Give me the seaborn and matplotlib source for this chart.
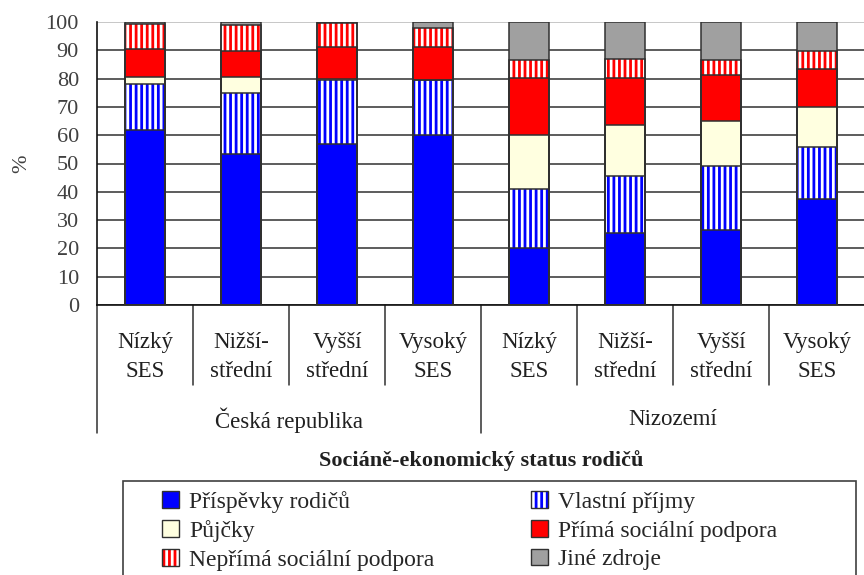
'''Sources of student income by parents' socio-economic status (CZ vs NL)'''

### IMPORTS ###

import matplotlib
matplotlib.use("Agg")
import matplotlib.pyplot as plt
import matplotlib.transforms as mtrans
from matplotlib.patches import Patch, Rectangle
import numpy as np
import seaborn as sns

### DATA ###

categories = ["Nízký\nSES", "Nižší-\nstřední", "Vyšší\nstřední", "Vysoký\nSES"] * 2
groups = ["Česká republika", "Nizozemí"]
series = ["Příspěvky rodičů", "Vlastní příjmy", "Půjčky",
          "Přímá sociální podpora", "Nepřímá sociální podpora", "Jiné zdroje"]

prispevky = [62.0, 53.5, 56.8, 60.2, 20.3, 25.4, 26.6, 37.3]
vlastni = [16.0, 21.3, 22.6, 19.2, 20.8, 20.1, 22.5, 18.4]
pujcky = [2.7, 5.9, 0.3, 0.2, 18.9, 18.0, 16.0, 14.3]
prima = [9.7, 9.2, 11.3, 11.6, 20.3, 16.8, 16.3, 13.5]
neprima = [9.0, 9.0, 8.6, 6.6, 6.2, 6.8, 5.0, 6.3]
jine = [0.6, 1.1, 0.4, 2.2, 13.5, 12.9, 13.6, 10.2]

title = "Sociáně-ekonomický status rodičů"

### STYLE ###

sns.set_style("white")
plt.rcParams["font.family"] = ["Liberation Serif", "DejaVu Serif"]
plt.rcParams["hatch.linewidth"] = 2.0

fill_colors = ["#0000ff", "#ffffff", "#ffffe0", "#ff0000", "#ffffff", "#a0a0a0"]
hatch_colors = [None, "#0000ff", None, None, "#ff0000", None]
edge = "#303030"
bar_w = 0.41

### PLOT ###

values = np.array([prispevky, vlastni, pujcky, prima, neprima, jine])
tops = np.cumsum(values, axis=0)
bar_ids = [f"b{i}" for i in range(len(categories))]

fig = plt.figure(figsize=(8.64, 5.75), dpi=100)
ax = fig.add_axes([97 / 864, 1 - 305 / 575, 768 / 864, 283 / 575])

# stacked fills: draw cumulative heights from the top series down
for i in reversed(range(len(series))):
    hc = hatch_colors[i]
    sns.barplot(x=bar_ids, y=tops[i], color=fill_colors[i], saturation=1,
                width=bar_w, errorbar=None, linewidth=0,
                edgecolor=hc if hc else "none", hatch="|||" if hc else None,
                ax=ax, zorder=2)
# segment outlines
for i in range(len(series)):
    sns.barplot(x=bar_ids, y=tops[i], fill=False, color=edge, saturation=1,
                width=bar_w, errorbar=None, linewidth=1.1, ax=ax, zorder=3)

ax.set_xlim(-0.5, len(categories) - 0.5)
ax.set_ylim(0, 100)
ax.set_yticks(range(0, 101, 10))
ax.set_xticks([])
ax.set_axisbelow(True)
ax.yaxis.grid(True, color=edge, linewidth=1.1)
ax.get_ygridlines()[-1].set_color("#b8b8b8")
ax.tick_params(axis="y", length=7, width=1.1, color=edge, pad=6,
               labelsize=16, labelcolor="#404040")
for s in ["top", "right"]:
    ax.spines[s].set_visible(False)
for s in ["left", "bottom"]:
    ax.spines[s].set_color("#111111")
    ax.spines[s].set_linewidth(1.2)

ax.set_ylabel("%", fontsize=16, color="#404040")
ax.yaxis.set_label_coords(-0.086, 0.5)
ax.set_xlabel(title, fontsize=16, fontweight="bold", color="#202020")
ax.xaxis.set_label_coords(0.5, -0.513)

# category / group labels under the axis
trans = mtrans.blended_transform_factory(ax.transData, ax.transAxes)
for k in range(len(categories) + 1):
    x = k - 0.5
    low = -0.452 if k % 4 == 0 else -0.283
    ax.plot([x, x], [0, low], transform=trans, clip_on=False,
            color=edge, linewidth=1.1)
for k, lab in enumerate(categories):
    ax.text(k, -0.184, lab, transform=trans, ha="center", va="center",
            fontsize=16.5, linespacing=1.5, color="#202020")
for g, lab in enumerate(groups):
    ax.text(1.5 + 4 * g, -0.406, lab, transform=trans, ha="center",
            va="center", fontsize=16.5, color="#202020")

# legend in a box that runs off the bottom of the figure
fig.add_artist(Rectangle((122.7 / 864, -0.05), (855.7 - 122.7) / 864,
                         (1 - 481 / 575) + 0.05, transform=fig.transFigure,
                         fill=False, edgecolor="#404040", linewidth=1.2))


def make_handle(i):
    if hatch_colors[i]:
        return (Patch(facecolor="white", edgecolor=hatch_colors[i],
                      hatch="|||", linewidth=0),
                Patch(facecolor="none", edgecolor=edge, linewidth=1))
    return Patch(facecolor=fill_colors[i], edgecolor=edge, linewidth=1)


order = [0, 2, 4, 1, 3, 5]
fig.legend([make_handle(i) for i in order], [series[i] for i in order],
           ncol=2, loc="upper left", bbox_to_anchor=(162 / 864, 1 - 491 / 575),
           frameon=False, fontsize=17, handlelength=0.7, handleheight=0.7,
           handletextpad=0.45, columnspacing=4.1, labelspacing=0.3,
           borderpad=0, borderaxespad=0)

fig.savefig("out.png", dpi=100)
